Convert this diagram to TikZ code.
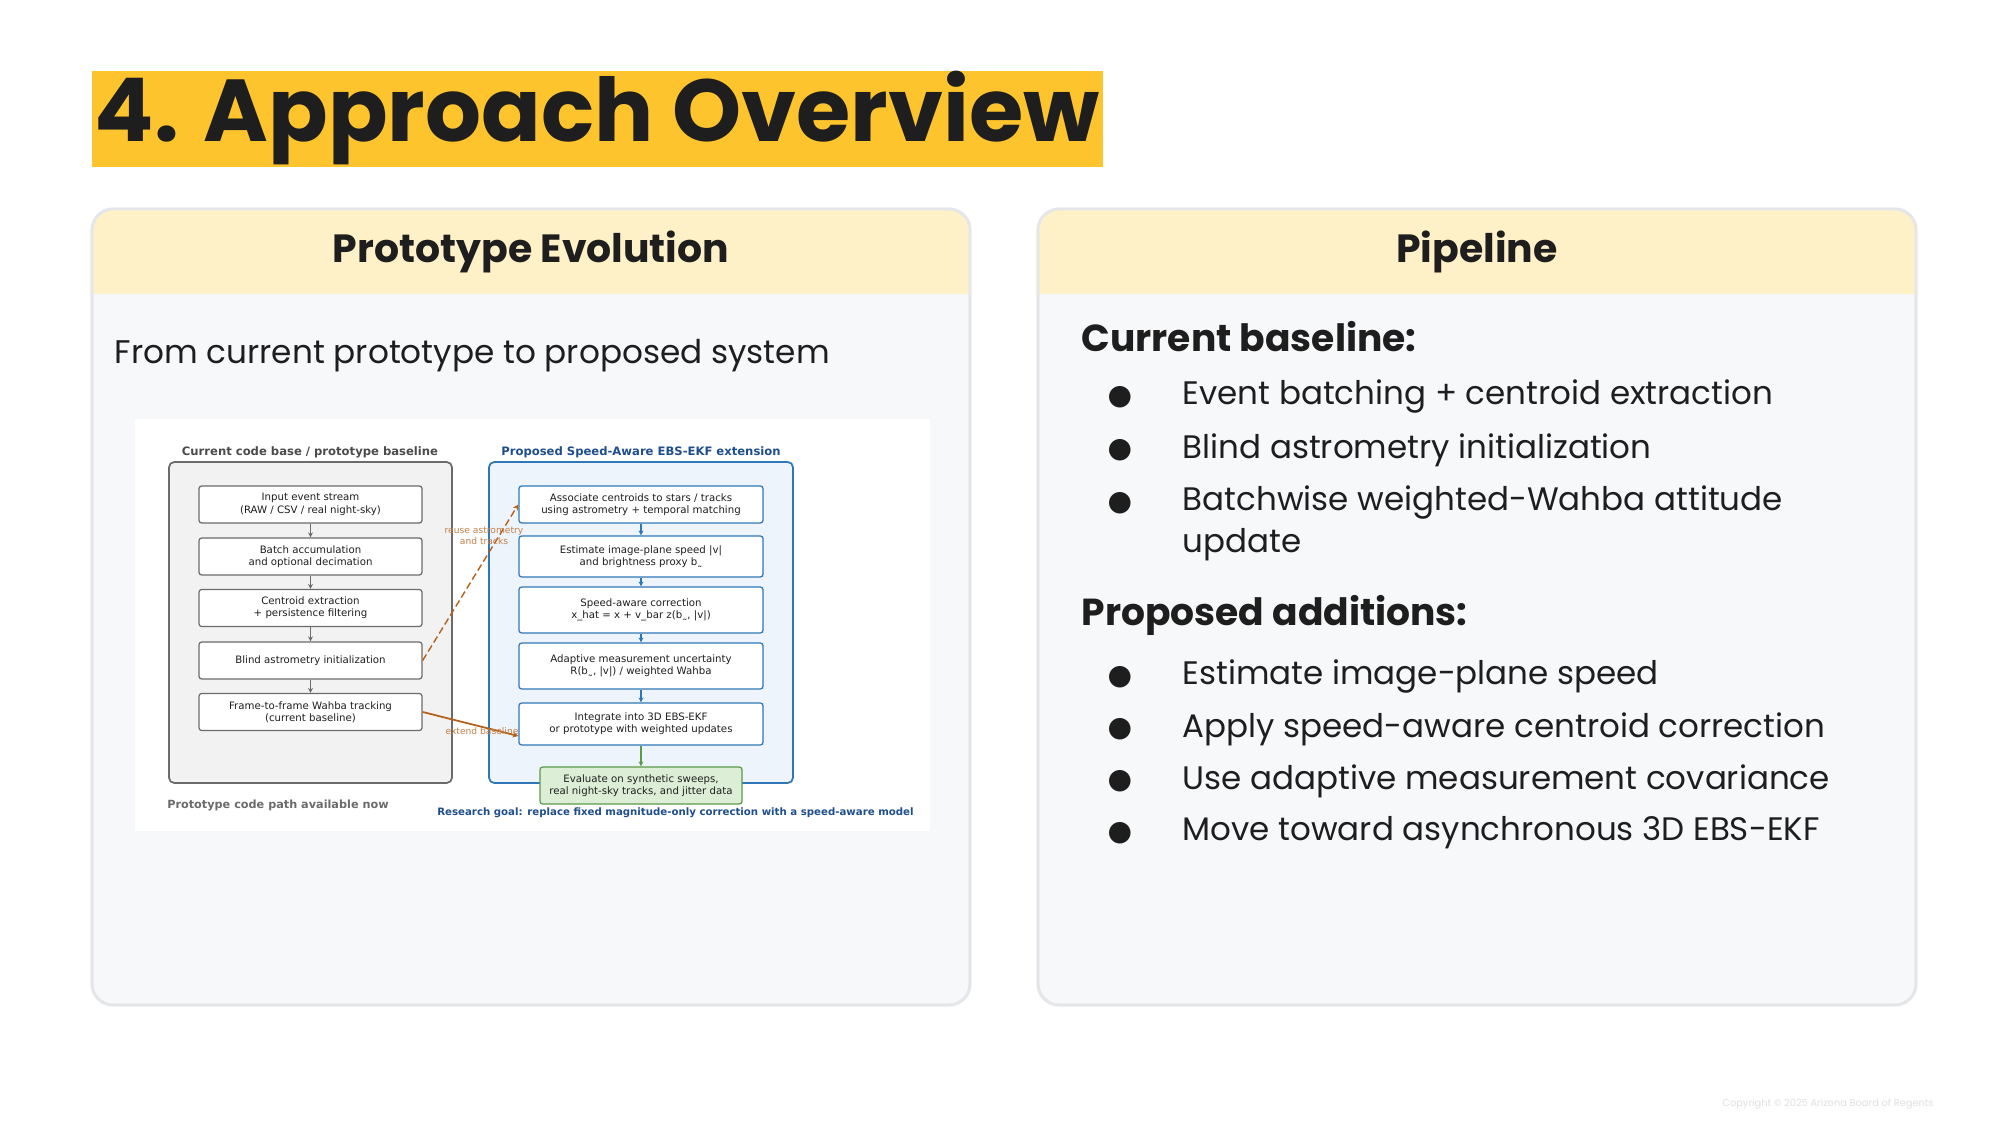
\documentclass[tikz,border=0pt]{standalone}
\usepackage{fontspec}
\setmainfont{Poppins}
\newfontfamily\dv{DejaVu Sans}
\usetikzlibrary{arrows.meta}
\definecolor{titlebg}{HTML}{FEC42D}
\definecolor{hdr}{HTML}{FEF0C7}
\definecolor{panel}{HTML}{F7F8FA}
\definecolor{pborder}{HTML}{E4E6EA}
\definecolor{ink}{HTML}{1E1E1E}
\definecolor{gbord}{HTML}{6B6B6B}
\definecolor{gfill}{HTML}{F2F2F2}
\definecolor{bbord}{HTML}{2F78B8}
\definecolor{bfill}{HTML}{EDF4FC}
\definecolor{btitle}{HTML}{1F4E8C}
\definecolor{orng}{HTML}{B5611A}
\definecolor{gnfill}{HTML}{DCEFD6}
\definecolor{gnbord}{HTML}{5C9A4C}
\tikzset{
 panelbox/.style={draw=pborder,line width=0.8pt,fill=panel,rounded corners=6pt},
 hdrtxt/.style={font=\fontsize{11.2}{13}\selectfont\bfseries,text=ink},
 bul/.style={anchor=west,font=\fontsize{9.25}{12}\selectfont,text=ink,align=left},
 dot/.style={anchor=center,font=\dv\fontsize{8}{10}\selectfont,text=ink},
 sub/.style={anchor=west,font=\fontsize{10.7}{13}\selectfont\bfseries,text=ink},
 gbox/.style={draw=gbord,fill=white,rounded corners=0.8pt,line width=0.35pt,align=center,font=\dv\fontsize{2.9}{3.5}\selectfont,text=ink,inner sep=0pt},
 bbox/.style={draw=bbord,fill=white,rounded corners=0.8pt,line width=0.35pt,align=center,font=\dv\fontsize{2.9}{3.5}\selectfont,text=ink,inner sep=0pt},
 garr/.style={draw=gbord,line width=0.35pt,-{Stealth[length=1.4pt,width=1.4pt]}},
 barr/.style={draw=bbord,line width=0.35pt,-{Stealth[length=1.4pt,width=1.4pt]}},
}
\begin{document}
\begin{tikzpicture}[x=0.01cm,y=-0.01cm]
\useasboundingbox[fill=white] (0,0) rectangle (2000,1125);
% title
\fill[titlebg] (92,71) rectangle (1103,167);
\node[anchor=west,inner sep=0pt,font=\fontsize{25}{27}\selectfont\bfseries,text=ink] (title) at (94,118) {4. Approach Overview};
% panels
\foreach \x in {92,1038}{
 \draw[panelbox] (\x,209) rectangle ++(878,796);
 \begin{scope}
 \clip[rounded corners=6pt] (\x,209) rectangle ++(878,796);
 \fill[hdr] (\x,209) rectangle ++(878,85);
 \end{scope}
 \draw[pborder,line width=0.8pt,rounded corners=6pt] (\x,209) rectangle ++(878,796);
}
\node[hdrtxt] (hl) at (531,252) {Prototype Evolution};
\node[hdrtxt] (hr) at (1477,252) {Pipeline};
\node[anchor=west,inner sep=0pt,font=\fontsize{9.3}{12}\selectfont,text=ink] (sub) at (114,356) {From current prototype to proposed system};
% right content
\node[sub,inner sep=0pt] (cb) at (1081,337) {Current baseline:};
\node[sub,inner sep=0pt] (pa) at (1081,615) {Proposed additions:};
\foreach \y/\t/\i in {397/Event batching + centroid extraction/a,450/Blind astrometry initialization/b,677/Estimate image-plane speed/d,729/Apply speed-aware centroid correction/e,781/Use adaptive measurement covariance/f,833/Move toward asynchronous 3D EBS-EKF/g}{
 \node[dot] (d\i) at (1120,\y) {●};
 \node[bul,inner sep=0pt] (t\i) at (1182,\y) {\t};
}
\node[dot] (dc) at (1120,503) {●};
\node[bul,inner sep=0pt,anchor=north west] (tc) at (1182,485) {Batchwise weighted-Wahba attitude\\update};
% embedded figure
\fill[white] (135,419) rectangle (930,831);
\node[font=\dv\bfseries\fontsize{3.3}{4}\selectfont,text=gbord!70!black] (gt) at (310,452) {Current code base / prototype baseline};
\node[font=\dv\bfseries\fontsize{3.3}{4}\selectfont,text=btitle] (bt) at (641,452) {Proposed Speed-Aware EBS-EKF extension};
\draw[draw=gbord,fill=gfill,rounded corners=1.5pt,line width=0.5pt] (169,462) rectangle (452,783);
\draw[draw=bbord,fill=bfill,rounded corners=1.5pt,line width=0.5pt] (489,462) rectangle (793,783);
\tikzset{gsz/.style={minimum width=2.23cm,minimum height=0.37cm}}
\node[gbox,gsz] (g1) at (310.5,504.5) {Input event stream\\(RAW / CSV / real night-sky)};
\node[gbox,gsz] (g2) at (310.5,556.5) {Batch accumulation\\and optional decimation};
\node[gbox,gsz] (g3) at (310.5,608) {Centroid extraction\\+ persistence filtering};
\node[gbox,gsz] (g4) at (310.5,660.5) {Blind astrometry initialization};
\node[gbox,gsz] (g5) at (310.5,712) {Frame-to-frame Wahba tracking\\(current baseline)};
\foreach \a/\b in {g1/g2,g2/g3,g3/g4,g4/g5}{\draw[garr] (\a) -- (\b);}
\node[bbox,minimum width=2.44cm,minimum height=0.37cm] (b1) at (641,504.5) {Associate centroids to stars / tracks\\using astrometry + temporal matching};
\node[bbox,minimum width=2.44cm,minimum height=0.41cm] (b2) at (641,556.5) {Estimate image-plane speed |v|\\and brightness proxy b\texttildelow};
\node[bbox,minimum width=2.44cm,minimum height=0.46cm] (b3) at (641,610) {Speed-aware correction\\x\_hat = x + v\_bar z(b\texttildelow, |v|)};
\node[bbox,minimum width=2.44cm,minimum height=0.46cm] (b4) at (641,666) {Adaptive measurement uncertainty\\R(b\texttildelow, |v|) / weighted Wahba};
\node[bbox,minimum width=2.44cm,minimum height=0.42cm] (b5) at (641,724) {Integrate into 3D EBS-EKF\\or prototype with weighted updates};
\foreach \a/\b in {b1/b2,b2/b3,b3/b4,b4/b5}{\draw[barr] (\a) -- (\b);}
\node[draw=gnbord,fill=gnfill,rounded corners=0.8pt,line width=0.35pt,align=center,font=\dv\fontsize{2.9}{3.5}\selectfont,text=ink,inner sep=0pt,minimum width=2.02cm,minimum height=0.37cm] (gn) at (641,785.5) {Evaluate on synthetic sweeps,\\real night-sky tracks, and jitter data};
\draw[draw=gnbord,line width=0.35pt,-{Stealth[length=1.4pt,width=1.4pt]}] (b5) -- (gn);
\node[font=\dv\bfseries\fontsize{3.2}{4}\selectfont,text=gbord] (gf) at (278,805) {Prototype code path available now};
\node[font=\dv\bfseries\fontsize{2.9}{4}\selectfont,text=btitle,anchor=east] (bf) at (926,813) {Research goal: replace fixed magnitude-only correction with a speed-aware model};
\draw[orng,line width=0.4pt,dash pattern=on 2pt off 1pt,-{Stealth[length=1.6pt,width=1.6pt]}] (g4.east) -- (b1.west);
\draw[orng,line width=0.5pt,-{Stealth[length=1.6pt,width=1.6pt]}] (g5.east) -- ([yshift=-0.12cm]b5.west);
\node[align=center,font=\dv\fontsize{2.6}{3}\selectfont,text=orng!80] (l1) at (484,536) {reuse astrometry\\and tracks};
\node[font=\dv\fontsize{2.6}{3}\selectfont,text=orng!80] (l2) at (482,731) {extend baseline};
% copyright
\node[font=\fontsize{2.8}{3}\selectfont,text=black!12] (cp) at (1828,1104) {Copyright © 2025 Arizona Board of Regents};
\end{tikzpicture}
\end{document}
